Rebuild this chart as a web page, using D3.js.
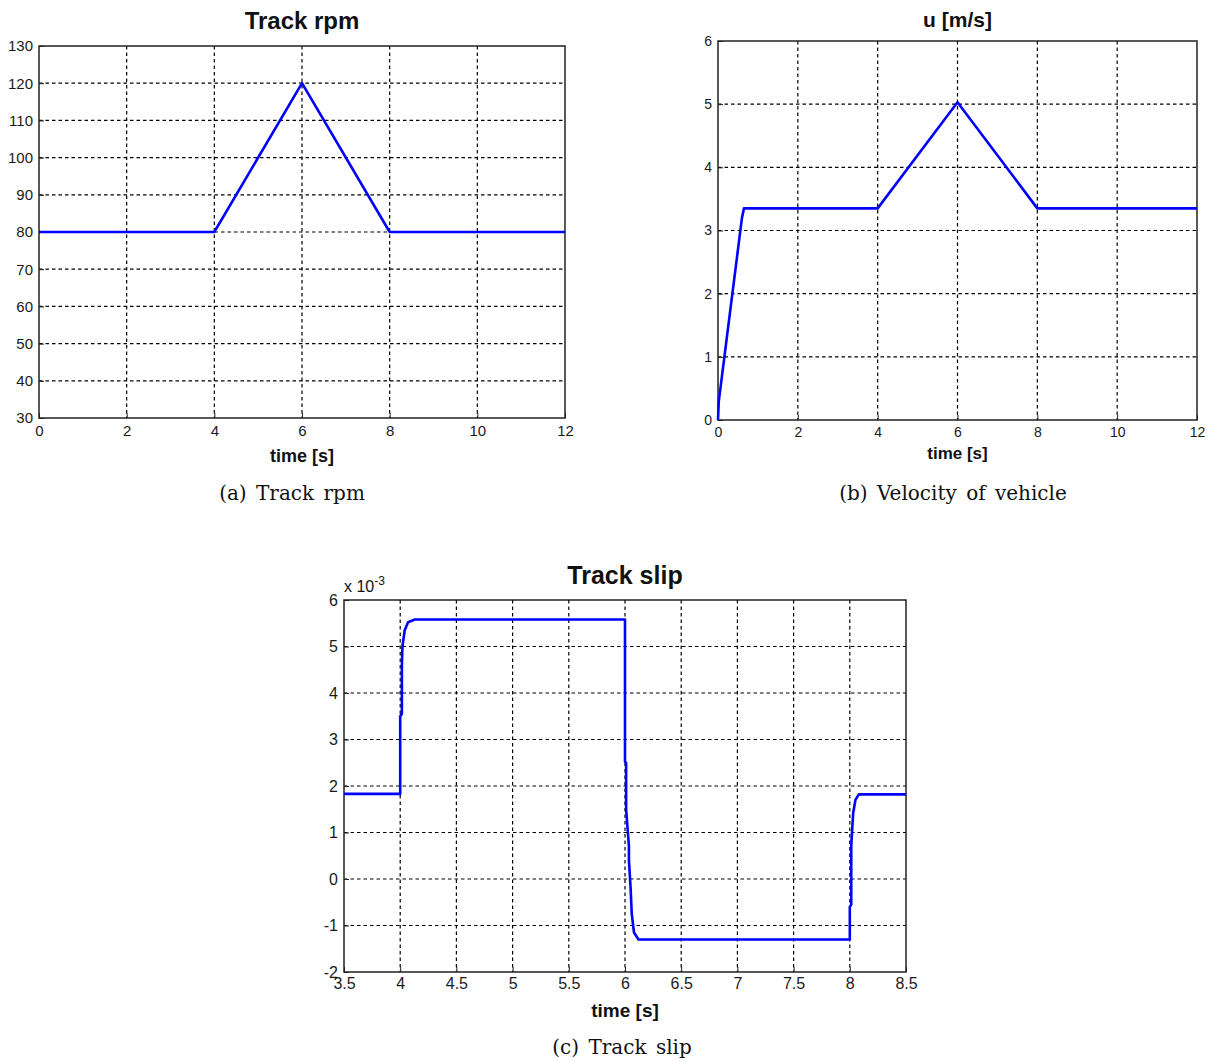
<!DOCTYPE html>
<html>
<head>
<meta charset="utf-8">
<script src="https://cdn.jsdelivr.net/npm/d3@7"></script>
<style>
  body { margin: 0; background: #fff; }
  svg { display: block; }
  .tick text { font-family: "Liberation Sans", Arial, sans-serif; fill: #1a1a1a; }
  .title, .xlabel { font-family: "Liberation Sans", Arial, sans-serif; font-weight: bold; fill: #111; }
  .caption { font-family: "DejaVu Serif", "Liberation Serif", serif; fill: #111; }
</style>
</head>
<body>
<div id="chart"></div>
<script>
// Track rpm (a)
const rpmTime = [0, 4, 6, 8, 12];
const rpmValue = [80, 80, 120, 80, 80];
const rpmXTicks = [0, 2, 4, 6, 8, 10, 12];
const rpmYTicks = [30, 40, 50, 60, 70, 80, 90, 100, 110, 120, 130];

// Velocity u (b)
const velTime = [0, 0.02, 0.6, 0.65, 4, 6, 8, 12];
const velValue = [0, 0.3, 3.2, 3.35, 3.35, 5.03, 3.35, 3.35];
const velXTicks = [0, 2, 4, 6, 8, 10, 12];
const velYTicks = [0, 1, 2, 3, 4, 5, 6];

// Track slip (c), values in 1e-3
const slipTime = [3.5, 4.0, 4.0, 4.015, 4.015, 4.02, 4.04, 4.07, 4.13, 6.0, 6.0, 6.01, 6.01, 6.035, 6.035, 6.05, 6.06, 6.08, 6.12,
  8.0, 8.0, 8.013, 8.013, 8.03, 8.05, 8.08, 8.5];
const slipValue = [1.83, 1.83, 3.5, 3.55, 4.6, 5.0, 5.35, 5.52, 5.58, 5.58, 2.52, 2.5, 1.5, 0.7, 0.4, -0.2, -0.75, -1.15, -1.3,
  -1.3, -0.6, -0.55, 0.73, 1.42, 1.7, 1.82, 1.82];
const slipXTicks = [3.5, 4, 4.5, 5, 5.5, 6, 6.5, 7, 7.5, 8, 8.5];
const slipYTicks = [-2, -1, 0, 1, 2, 3, 4, 5, 6];

const svg = d3.select("#chart").append("svg").attr("width", 1211).attr("height", 1061);

function drawPanel(p) {
  const x = d3.scaleLinear().domain(p.xDomain).range([p.left, p.right]);
  const y = d3.scaleLinear().domain(p.yDomain).range([p.bottom, p.top]);
  const g = svg.append("g");
  const w = p.right - p.left, h = p.bottom - p.top;

  // grid (dashed), skip the box edges
  g.append("g").selectAll("line")
    .data(p.xTicks.filter((d) => d !== p.xDomain[0] && d !== p.xDomain[1]))
    .join("line")
    .attr("x1", (d) => x(d)).attr("x2", (d) => x(d))
    .attr("y1", p.top).attr("y2", p.bottom)
    .attr("stroke", "#000").attr("stroke-width", 1.2).attr("stroke-dasharray", "3.5,3");
  g.append("g").selectAll("line")
    .data(p.yTicks.filter((d) => d !== p.yDomain[0] && d !== p.yDomain[1]))
    .join("line")
    .attr("y1", (d) => y(d)).attr("y2", (d) => y(d))
    .attr("x1", p.left).attr("x2", p.right)
    .attr("stroke", "#000").attr("stroke-width", 1.2).attr("stroke-dasharray", "3.5,3");

  // axes with inward ticks, plain hyphen for negatives
  const fmt = (d) => String(d);
  const xAxis = g.append("g")
    .attr("transform", `translate(0,${p.bottom})`)
    .call(d3.axisBottom(x).tickValues(p.xTicks).tickSize(-5).tickPadding(p.xPad).tickFormat(fmt));
  const yAxis = g.append("g")
    .attr("transform", `translate(${p.left},0)`)
    .call(d3.axisLeft(y).tickValues(p.yTicks).tickSize(-5).tickPadding(p.yPad).tickFormat(fmt));
  [xAxis, yAxis].forEach((a) => {
    a.select(".domain").remove();
    a.selectAll(".tick line").attr("stroke", "#222");
    a.selectAll(".tick text").style("font-size", p.tickFont + "px");
  });

  // box
  g.append("rect")
    .attr("x", p.left).attr("y", p.top).attr("width", w).attr("height", h)
    .attr("fill", "none").attr("stroke", "#222").attr("stroke-width", 1.5);

  // series
  const pts = p.time.map((t, i) => [t, p.value[i]]);
  g.append("path")
    .datum(pts)
    .attr("fill", "none")
    .attr("stroke", "#0000ff")
    .attr("stroke-width", 2.6)
    .attr("stroke-linejoin", "round")
    .attr("d", d3.line().x((d) => x(d[0])).y((d) => y(d[1])));

  g.append("text").attr("class", "title")
    .attr("x", (p.left + p.right) / 2).attr("y", p.titleY)
    .attr("text-anchor", "middle").style("font-size", p.titleFont + "px")
    .text(p.title);
  g.append("text").attr("class", "xlabel")
    .attr("x", (p.left + p.right) / 2).attr("y", p.xlabelY)
    .attr("text-anchor", "middle").style("font-size", p.xlabelFont + "px")
    .text("time [s]");
  g.append("text").attr("class", "caption")
    .attr("x", p.captionX).attr("y", p.captionY)
    .attr("text-anchor", "middle").style("font-size", "20px")
    .style("word-spacing", "3px")
    .text(p.caption);
  return g;
}

drawPanel({
  left: 39, right: 565, top: 46, bottom: 418,
  xDomain: [0, 12], yDomain: [30, 130], xTicks: rpmXTicks, yTicks: rpmYTicks,
  time: rpmTime, value: rpmValue, tickFont: 15, xPad: 7, yPad: 6,
  title: "Track rpm", titleY: 29, titleFont: 24,
  xlabelY: 462, xlabelFont: 18,
  caption: "(a) Track rpm", captionX: 292, captionY: 500
});

drawPanel({
  left: 718, right: 1197, top: 41, bottom: 420,
  xDomain: [0, 12], yDomain: [0, 6], xTicks: velXTicks, yTicks: velYTicks,
  time: velTime, value: velValue, tickFont: 14, xPad: 7, yPad: 6,
  title: "u [m/s]", titleY: 27, titleFont: 21,
  xlabelY: 459, xlabelFont: 17,
  caption: "(b) Velocity of vehicle", captionX: 953, captionY: 500
});

const gc = drawPanel({
  left: 344, right: 906, top: 600, bottom: 972,
  xDomain: [3.5, 8.5], yDomain: [-2, 6], xTicks: slipXTicks, yTicks: slipYTicks,
  time: slipTime, value: slipValue, tickFont: 16, xPad: 6, yPad: 6,
  title: "Track slip", titleY: 584, titleFont: 25,
  xlabelY: 1017, xlabelFont: 19,
  caption: "(c) Track slip", captionX: 622, captionY: 1054
});

// exponent label
const expo = gc.append("text")
  .attr("x", 344).attr("y", 592)
  .style("font-family", "'Liberation Sans', Arial, sans-serif")
  .style("font-size", "16px").attr("fill", "#111");
expo.append("tspan").text("x 10");
expo.append("tspan").attr("dy", -7).style("font-size", "12px").text("-3");
</script>
</body>
</html>
